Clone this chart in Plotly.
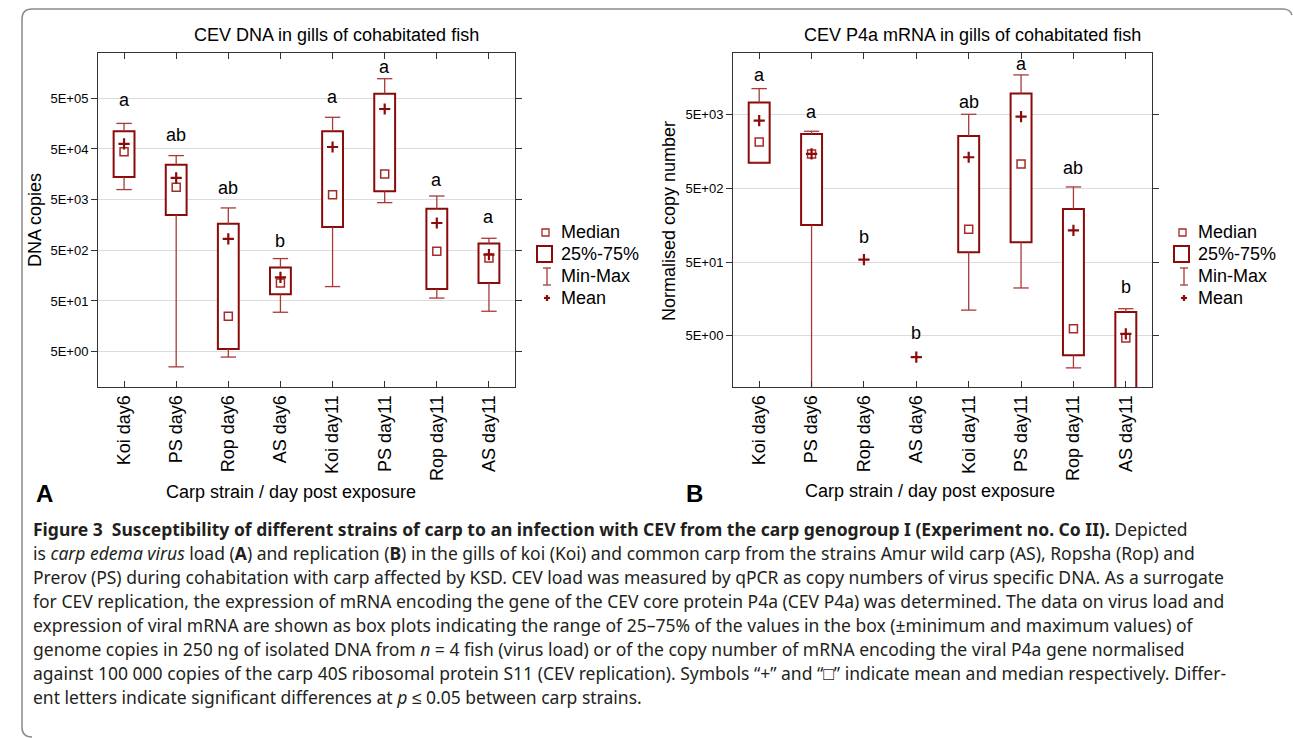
import math
import plotly.graph_objects as go

W, H = 1293, 738

# ---------------- data ----------------
categories = ["Koi day6", "PS day6", "Rop day6", "AS day6",
              "Koi day11", "PS day11", "Rop day11", "AS day11"]

# Panel A: CEV DNA copies
dna_min = [7.9e3, 2.5, 3.9, 29.9, 96, 4.36e3, 57, 31.3]
dna_q1 = [1.4e4, 2.5e3, 5.65, 67.7, 1.44e3, 7.3e3, 86, 113]
dna_median = [4.4e4, 8.75e3, 24.9, 113, 6.28e3, 1.6e4, 478, 353]
dna_mean = [6.3e4, 1.34e4, 838, 146, 5.47e4, 3.08e5, 1.73e3, 410]
dna_q3 = [1.12e5, 2.45e4, 1.68e3, 228, 1.12e5, 6.18e5, 3.3e3, 677]
dna_max = [1.6e5, 3.7e4, 3.43e3, 343, 2.11e5, 1.22e6, 5.9e3, 863]
dna_letters = ["a", "ab", "ab", "b", "a", "a", "a", "a"]
dna_letter_y = [4.63e5, 9.44e4, 8.63e3, 764, 5.24e5, 2.11e6, 1.22e4, 2.24e3]

# Panel B: CEV P4a mRNA normalised copy number
mrna_min = [1.1e3, 0.5, None, None, 11.1, 22.2, 1.82, 0.5]
mrna_q1 = [1.12e3, 160, None, None, 68, 93, 2.7, 0.5]
mrna_median = [2.15e3, 1.47e3, None, None, 140, 1.08e3, 6.17, 4.65]
mrna_mean = [4.19e3, 1.48e3, 54, 2.54, 1.33e3, 4.75e3, 135, 5.27]
mrna_q3 = [7.36e3, 2.76e3, None, None, 2.59e3, 9.75e3, 264, 10.5]
mrna_max = [1.14e4, 3.0e3, None, None, 5.1e3, 1.75e4, 525, 11.6]
mrna_letters = ["a", "a", "b", "b", "ab", "a", "ab", "b"]
mrna_letter_y = [1.77e4, 5.5e3, 110, 5.5, 7.5e3, 2.49e4, 953, 23]

dna_ticks = [5, 50, 500, 5000, 50000, 500000]
dna_ticktext = ["5E+00", "5E+01", "5E+02", "5E+03", "5E+04", "5E+05"]
mrna_ticks = [5, 50, 500, 5000]
mrna_ticktext = ["5E+00", "5E+01", "5E+02", "5E+03"]

legend_labels = ["Median", "25%-75%", "Min-Max", "Mean"]

# ---------------- style ----------------
BOX = "#8b0a0a"
WHISK = "#a83a3a"
MED = "#a52a2a"
FONT = "Liberation Sans, Arial, sans-serif"
AXC = "#333333"


def px(x):
    return x / W


def py(y):
    return 1 - y / H


fig = go.Figure()


def add_panel(xa, ya, vmin, q1, med, mean, q3, vmax, letters, letter_y):
    xs = list(range(len(categories)))
    # boxes (25%-75%)
    bx, by, bb = [], [], []
    for i in xs:
        if q1[i] is not None and q3[i] is not None:
            bx.append(i)
            by.append(q3[i] - q1[i])
            bb.append(q1[i])
    fig.add_trace(go.Bar(x=bx, y=by, base=bb, width=0.4,
                         marker=dict(color="white", line=dict(color=BOX, width=2)),
                         xaxis=xa, yaxis=ya, showlegend=False, hoverinfo="skip"))
    # whiskers
    wx, wy, cx, cy = [], [], [], []
    for i in xs:
        if vmax[i] is not None and q3[i] is not None:
            wx += [i, i, None]
            wy += [q3[i], vmax[i], None]
            cx.append(i)
            cy.append(vmax[i])
        if vmin[i] is not None and q1[i] is not None:
            wx += [i, i, None]
            wy += [q1[i], vmin[i], None]
            cx.append(i)
            cy.append(vmin[i])
    fig.add_trace(go.Scatter(x=wx, y=wy, mode="lines",
                             line=dict(color=WHISK, width=1.3),
                             xaxis=xa, yaxis=ya, showlegend=False, hoverinfo="skip"))
    fig.add_trace(go.Scatter(x=cx, y=cy, mode="markers",
                             marker=dict(symbol="line-ew", size=11,
                                         line=dict(color=WHISK, width=1.3)),
                             xaxis=xa, yaxis=ya, showlegend=False, hoverinfo="skip"))
    # medians
    fig.add_trace(go.Scatter(x=xs, y=med, mode="markers",
                             marker=dict(symbol="square-open", size=8, color=MED,
                                         line=dict(color=MED, width=1.5)),
                             xaxis=xa, yaxis=ya, showlegend=False, hoverinfo="skip"))
    # means
    fig.add_trace(go.Scatter(x=xs, y=mean, mode="markers",
                             marker=dict(symbol="cross-thin", size=8, color=BOX,
                                         line=dict(color=BOX, width=2.2)),
                             xaxis=xa, yaxis=ya, showlegend=False, hoverinfo="skip"))
    # significance letters
    for i in xs:
        fig.add_annotation(x=i, y=math.log10(letter_y[i]), text=letters[i],
                           xref=xa, yref=ya, showarrow=False,
                           font=dict(size=18, color="black", family=FONT))


add_panel("x", "y", dna_min, dna_q1, dna_median, dna_mean, dna_q3, dna_max,
          dna_letters, dna_letter_y)
add_panel("x2", "y2", mrna_min, mrna_q1, mrna_median, mrna_mean, mrna_q3, mrna_max,
          mrna_letters, mrna_letter_y)

ydom = [py(387), py(53)]
xcommon = dict(range=[-0.5, 7.5], tickmode="array", tickvals=list(range(8)),
               ticktext=categories, tickangle=-90, ticks="inside", ticklen=6,
               tickcolor=AXC, showline=True, linecolor=AXC, linewidth=1,
               mirror="allticks", showgrid=False, zeroline=False,
               tickfont=dict(size=18, color="black", family=FONT))
ycommon = dict(type="log", ticks="outside", ticklen=6, tickcolor=AXC,
               showline=True, linecolor=AXC, linewidth=1, mirror="allticks",
               showgrid=True, gridcolor="#dcdcdc", gridwidth=1, zeroline=False,
               tickfont=dict(size=13, color="black", family=FONT))

fig.update_layout(
    width=W, height=H, margin=dict(l=0, r=0, t=0, b=0, autoexpand=False),
    paper_bgcolor="white", plot_bgcolor="white", showlegend=False,
    barmode="overlay",
    xaxis=dict(domain=[px(98), px(515)], anchor="y", **xcommon),
    yaxis=dict(domain=ydom, anchor="x", range=[0, 6.594], tickvals=dna_ticks,
               ticktext=dna_ticktext, **ycommon),
    xaxis2=dict(domain=[px(733), px(1152)], anchor="y2", **xcommon),
    yaxis2=dict(domain=ydom, anchor="x2", range=[0, 4.541], tickvals=mrna_ticks,
                ticktext=mrna_ticktext, **ycommon),
)


def ann(x, y, text, size=18, xanchor="center", yanchor="middle", angle=0,
        color="black", family=FONT):
    fig.add_annotation(x=px(x), y=py(y), xref="paper", yref="paper", text=text,
                       showarrow=False, xanchor=xanchor, yanchor=yanchor,
                       textangle=angle, font=dict(size=size, color=color, family=family))


# titles, axis titles, panel letters
ann(336, 35, "CEV DNA in gills of cohabitated fish")
ann(972, 35, "CEV P4a mRNA in gills of cohabitated fish")
ann(35, 220, "DNA copies", angle=-90)
ann(669, 221, "Normalised copy number", angle=-90)
ann(291, 492, "Carp strain / day post exposure")
ann(930, 491, "Carp strain / day post exposure")
ann(44, 493, "<b>A</b>", size=24)
ann(694, 493, "<b>B</b>", size=24)

# manual legends
shapes = []
for off in (0, 637):
    shapes.append(dict(type="rect", xref="paper", yref="paper",
                       x0=px(542 + off), x1=px(549 + off), y0=py(236), y1=py(229),
                       line=dict(color=MED, width=1.3)))
    shapes.append(dict(type="rect", xref="paper", yref="paper",
                       x0=px(537 + off), x1=px(552 + off), y0=py(262), y1=py(246),
                       line=dict(color=BOX, width=2)))
    shapes.append(dict(type="line", xref="paper", yref="paper",
                       x0=px(547 + off), x1=px(547 + off), y0=py(268), y1=py(285),
                       line=dict(color=WHISK, width=1.3)))
    for yy in (268, 285):
        shapes.append(dict(type="line", xref="paper", yref="paper",
                           x0=px(543 + off), x1=px(551 + off), y0=py(yy), y1=py(yy),
                           line=dict(color=WHISK, width=1.3)))
    shapes.append(dict(type="line", xref="paper", yref="paper",
                       x0=px(544 + off), x1=px(550 + off), y0=py(298), y1=py(298),
                       line=dict(color=BOX, width=2.2)))
    shapes.append(dict(type="line", xref="paper", yref="paper",
                       x0=px(547 + off), x1=px(547 + off), y0=py(295), y1=py(301),
                       line=dict(color=BOX, width=2.2)))
    for lab, yy in zip(legend_labels, (232, 254, 276, 298)):
        ann(559 + off, yy, lab, xanchor="left")

# outer rounded frame


def P(x, y):
    return f"{px(x):.5f},{py(y):.5f}"


frame = (f"M {P(22, 19)} L {P(22, 727)} Q {P(22, 737)} {P(32, 737)} "
         f"M {P(22, 19)} Q {P(22, 9)} {P(32, 9)} L {P(1283, 9)} Q {P(1290, 9)} {P(1292, 15)}")
shapes.append(dict(type="path", xref="paper", yref="paper", path=frame,
                   line=dict(color="#8a8a8a", width=1.5)))
fig.update_layout(shapes=shapes)

# caption
CAP = "Noto Sans, sans-serif"
CAPC = "#231f20"
caption = [
    "<b>Figure 3  Susceptibility of different strains of carp to an infection with CEV from the carp genogroup I (Experiment no. Co II).</b> Depicted",
    "is <i>carp edema virus</i> load (<b>A</b>) and replication (<b>B</b>) in the gills of koi (Koi) and common carp from the strains Amur wild carp (AS), Ropsha (Rop) and",
    "Prerov (PS) during cohabitation with carp affected by KSD. CEV load was measured by qPCR as copy numbers of virus specific DNA. As a surrogate",
    "for CEV replication, the expression of mRNA encoding the gene of the CEV core protein P4a (CEV P4a) was determined. The data on virus load and",
    "expression of viral mRNA are shown as box plots indicating the range of 25–75% of the values in the box (±minimum and maximum values) of",
    "genome copies in 250 ng of isolated DNA from <i>n</i> = 4 fish (virus load) or of the copy number of mRNA encoding the viral P4a gene normalised",
    "against 100 000 copies of the carp 40S ribosomal protein S11 (CEV replication). Symbols “+” and “□” indicate mean and median respectively. Differ-",
    "ent letters indicate significant differences at <i>p</i> ≤ 0.05 between carp strains.",
]
for k, line in enumerate(caption):
    ann(31, 529 + 24 * k, line, size=17.5, xanchor="left", color=CAPC, family=CAP)

fig.write_html("out.html", config={"displayModeBar": False},
               post_script="document.body.style.margin='0';document.body.style.overflow='hidden';")
